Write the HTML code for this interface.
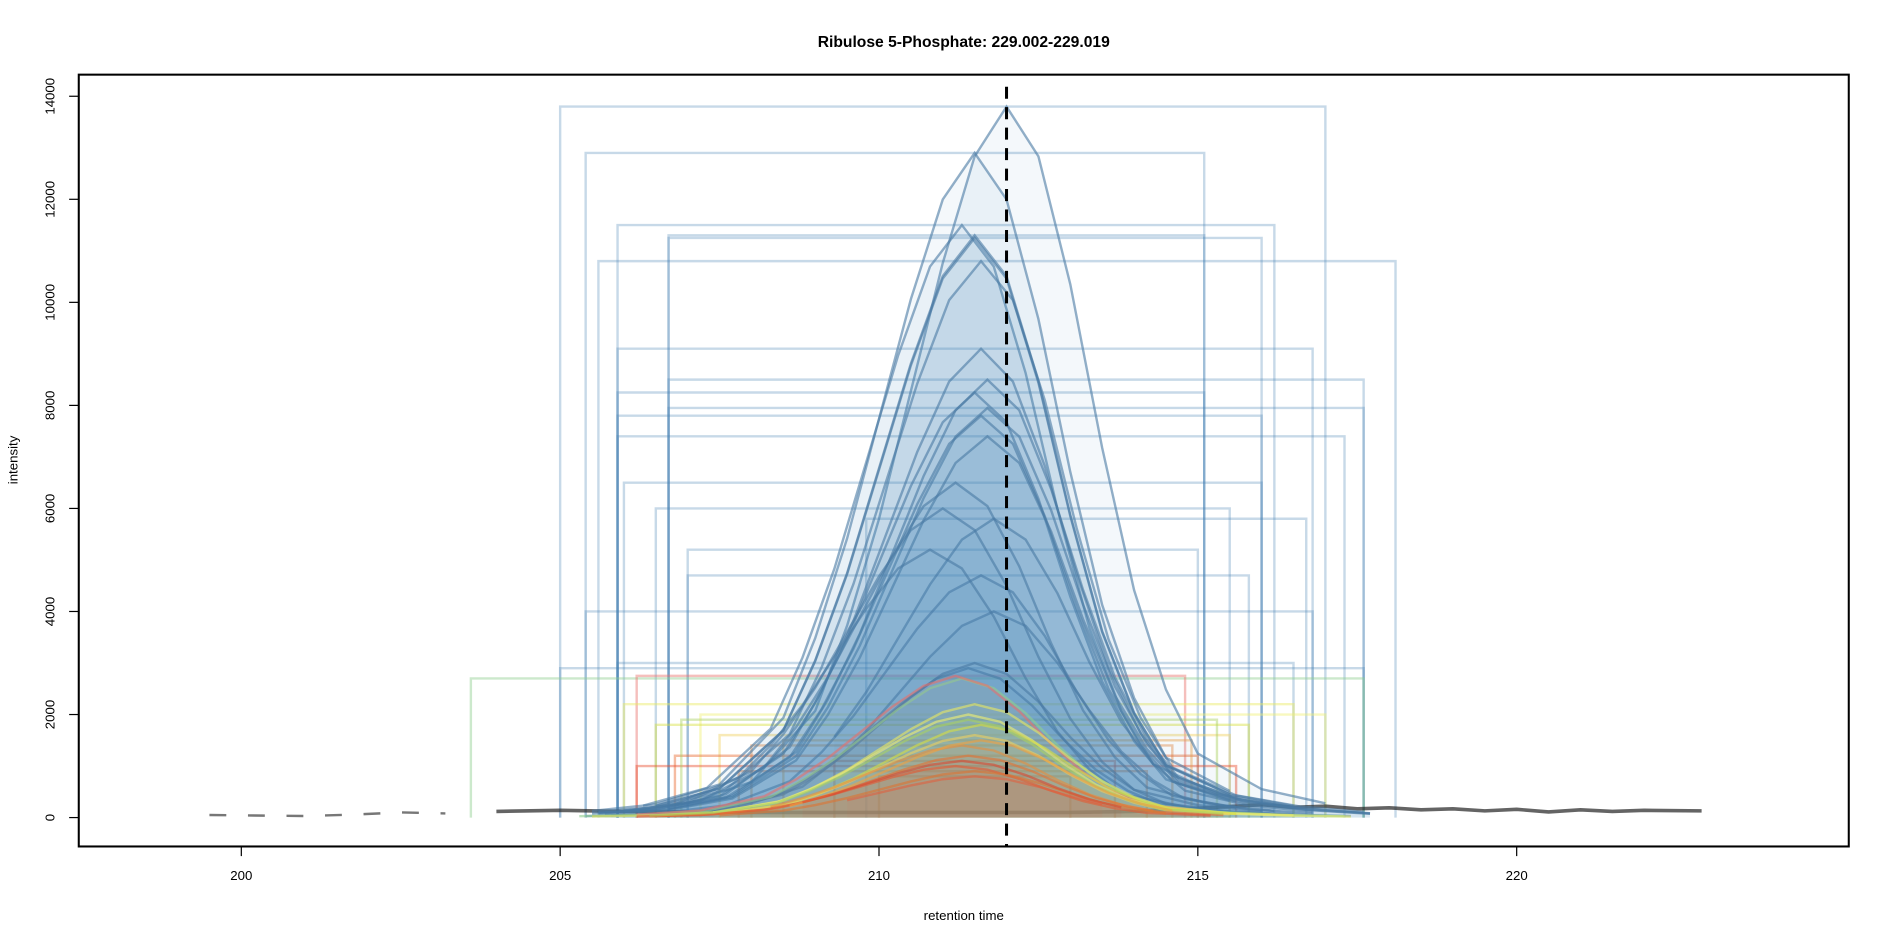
<!DOCTYPE html>
<html><head><meta charset="utf-8"><style>
body{margin:0;background:#fff;}
svg{display:block;font-family:"Liberation Sans",Arial,sans-serif;}
</style></head><body>
<svg id="chart" width="1889" height="944" viewBox="0 0 1568 784">
<text x="800" y="39" text-anchor="middle" font-size="13" font-weight="bold">Ribulose 5-Phosphate: 229.002-229.019</text>
<text x="800" y="764" text-anchor="middle" font-size="11">retention time</text>
<text transform="translate(14,382) rotate(-90)" text-anchor="middle" font-size="11">intensity</text>
<g id="boxes"></g>
<g id="base"></g>
<g id="peaks"></g>
<g id="axes"></g>
<rect x="65" y="62" width="1470" height="641" fill="none" stroke="#000" stroke-width="1.7"/>
</svg>
<script>
const xTicks=[200,205,210,215,220];
const yTicks=[0,2000,4000,6000,8000,10000,12000,14000];
// blue peaks: apex value, apex time, box left, box right
const blueApex=[13800,12900,11500,11300,11250,10800,9100,8500,8250,7950,7800,7400,5800,4700,4000,2900,6500,6000,5200,3000];
const blueRt=[212.0,211.5,211.3,211.5,211.5,211.6,211.6,211.7,211.5,211.7,211.6,211.7,211.8,211.6,211.8,211.4,211.2,211.0,210.8,211.5];
const blueL=[205.0,205.4,205.9,206.7,206.7,205.6,205.9,206.7,205.9,206.7,205.9,205.9,209.8,207.0,205.4,205.0,206.0,206.5,207.0,205.9];
const blueR=[217.0,215.1,216.2,215.1,216.0,218.1,216.8,217.6,215.1,217.6,216.0,217.3,216.7,215.8,216.8,217.6,216.0,215.5,215.0,216.5];
// warm/green peaks
const warmApex=[2700,2750,2200,2000,1800,1600,1400,1200,1000,900,1900,1500,1100,800];
const warmRt=[211.3,211.2,211.5,211.4,211.6,211.5,211.3,211.4,211.2,211.5,211.4,211.6,211.3,211.5];
const warmL=[203.6,206.2,206.0,207.2,206.5,207.5,208.0,206.8,206.2,207.8,206.9,208.5,209.3,210.0];
const warmR=[217.6,214.8,216.5,217.0,215.8,215.5,214.6,215.0,215.6,214.2,215.3,214.9,213.7,213.0];
const warmCol=['#8fce8f','#e8706a','#e8e860','#f0f070','#d8e040','#f0d060','#e88a40','#e86a30','#e85030','#e07030','#a8d060','#f0a040','#d84830','#e06040'];
// profile template (offset in minutes, relative intensity)
const profOff=[-6,-5,-4,-3,-2.5,-2,-1.5,-1,-0.5,0,0.5,1,1.5,2,2.5,3,4,5,6];
const profVal=[0.01,0.02,0.05,0.15,0.27,0.42,0.6,0.78,0.93,1,0.93,0.75,0.52,0.32,0.18,0.09,0.04,0.02,0.01];
// baseline trace
const baseT=[204,205,206,207,208,213,214,215,216,216.5,217,217.5,218,218.5,219,219.5,220,220.5,221,221.5,222,222.9];
const baseV=[120,140,120,110,100,100,120,180,250,200,220,170,190,150,170,130,160,110,150,120,140,130];
const dashT=[199.5,200.2,201,201.8,202.5,203.2];
const dashV=[50,40,30,60,100,80];

const X=t=>200+(t-200)*52.96;
const Y=v=>679-v*0.04279;
const NS='http://www.w3.org/2000/svg';
function mk(tag,parent){const e=document.createElementNS(NS,tag);document.getElementById(parent).appendChild(e);return e;}

xTicks.forEach(t=>{
 const l=mk('line','axes');l.setAttribute('x1',X(t));l.setAttribute('x2',X(t));l.setAttribute('y1',703);l.setAttribute('y2',711);l.setAttribute('stroke','#000');
 
 
 const tx=mk('text','axes');tx.setAttribute('x',X(t));tx.setAttribute('y',731);tx.setAttribute('text-anchor','middle');tx.setAttribute('font-size','11');tx.textContent=t;
 
 
});
yTicks.forEach(v=>{
 const l=mk('line','axes');l.setAttribute('x1',57);l.setAttribute('x2',65);l.setAttribute('y1',Y(v));l.setAttribute('y2',Y(v));l.setAttribute('stroke','#000');
 
 
 const tx=mk('text','axes');tx.setAttribute('transform',`translate(45,${Y(v)}) rotate(-90)`);tx.setAttribute('text-anchor','middle');tx.setAttribute('font-size','11');tx.textContent=v;
 
 
});

function box(l,r,a,col,op){
 const p=mk('polyline','boxes');
 p.setAttribute('points',`${X(l)},${Y(0)} ${X(l)},${Y(a)} ${X(r)},${Y(a)} ${X(r)},${Y(0)}`);
 p.setAttribute('fill','none');p.setAttribute('stroke',col);p.setAttribute('stroke-opacity',op);p.setAttribute('stroke-width','2');
 
 
}
function peak(a,rt,l,r,col,fill){
 let pts=[];
 profOff.forEach((o,i)=>{const t=rt+o;if(t>=l-0.5&&t<=r+0.5)pts.push([X(t),Y(a*profVal[i])]);});
 const poly=mk('polygon','peaks');
 poly.setAttribute('points',pts.map(p=>p.join(',')).join(' ')+` ${pts[pts.length-1][0]},${Y(0)} ${pts[0][0]},${Y(0)}`);
 poly.setAttribute('fill',fill);poly.setAttribute('fill-opacity','0.06');poly.setAttribute('stroke','none');
 
 
 const pl=mk('polyline','peaks');
 pl.setAttribute('points',pts.map(p=>p.join(',')).join(' '));
 pl.setAttribute('fill','none');pl.setAttribute('stroke',col);pl.setAttribute('stroke-opacity','0.6');pl.setAttribute('stroke-width','2');
 
 
}
blueApex.forEach((a,i)=>box(blueL[i],blueR[i],a,'#4682b4',0.3));
warmApex.forEach((a,i)=>box(warmL[i],warmR[i],a,warmCol[i],0.45));

const bl=mk('polyline','base');
bl.setAttribute('points',baseT.map((t,i)=>X(t)+','+Y(baseV[i])).join(' '));
bl.setAttribute('fill','none');bl.setAttribute('stroke','#222');bl.setAttribute('stroke-opacity','0.7');bl.setAttribute('stroke-width','3');


const dl=mk('polyline','base');
dl.setAttribute('points',dashT.map((t,i)=>X(t)+','+Y(dashV[i])).join(' '));
dl.setAttribute('fill','none');dl.setAttribute('stroke','#777');dl.setAttribute('stroke-width','2');dl.setAttribute('stroke-dasharray','14,18');



blueApex.forEach((a,i)=>peak(a,blueRt[i],blueL[i],blueR[i],'#4a7aa4','#4682b4'));
warmApex.forEach((a,i)=>peak(a,warmRt[i],warmL[i],warmR[i],warmCol[i],warmCol[i]));

const rl=mk('line','axes');
rl.setAttribute('x1',X(212));rl.setAttribute('x2',X(212));rl.setAttribute('y1',72);rl.setAttribute('y2',703);
rl.setAttribute('stroke','#000');rl.setAttribute('stroke-width','2.5');rl.setAttribute('stroke-dasharray','10,7');


</script>
</body></html>
